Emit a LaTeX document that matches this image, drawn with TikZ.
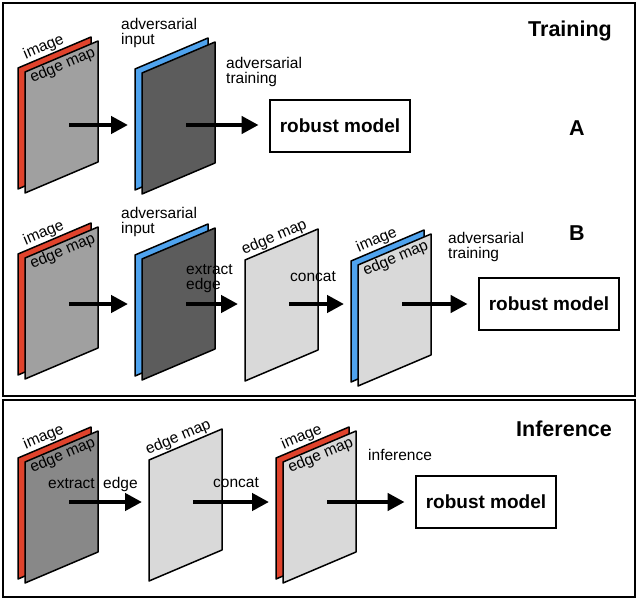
\documentclass[tikz,border=0pt]{standalone}
\usepackage{fontspec}
\setmainfont{Liberation Sans}
\usetikzlibrary{arrows.meta}
\definecolor{sheetred}{HTML}{E0432C}
\definecolor{sheetblue}{HTML}{4FA3EE}
\definecolor{imggray}{HTML}{A0A0A0}
\definecolor{infgray}{HTML}{888888}
\definecolor{advgray}{HTML}{5C5C5C}
\definecolor{edgegray}{HTML}{D9D9D9}

\tikzset{
  page/.style={draw=black, line width=1.5pt, line join=round},
  flow/.style={line width=4.5pt, -{Triangle[length=17pt,width=17pt]}},
  model/.style={draw, line width=2.8pt, minimum width=140pt, minimum height=52pt,
    inner sep=0pt, font=\fontsize{19}{20}\selectfont\bfseries},
  lbl/.style={font=\fontsize{15.5}{15}\selectfont, inner sep=0pt, align=left},
  tag/.style={lbl, rotate=23, inner sep=1.5pt},
  title/.style={font=\fontsize{21.5}{22}\selectfont\bfseries, inner sep=0pt},
  frame/.style={draw, line width=2pt},
}

% sheet: name, x, y (top left corner), arrow row y, fill
\newcommand{\sheet}[5]{%
  \draw[page, fill=#5] (#2,#3) -- ++(73,-31) -- ++(0,121) -- ++(-73,31) -- cycle;
  \coordinate (#1) at (#2,#3);
  \coordinate (#1-in) at (#2-7,#4);
  \coordinate (#1-out) at (#2+44,#4);
}
% labels on the top edge of a sheet
\newcommand{\ontop}[3]{\path (#1) -- ++(73,-31) node[pos=#2, tag, anchor=south] {#3};}
\newcommand{\under}[3]{\path (#1) -- ++(73,-31) node[pos=#2, tag, anchor=north] {#3};}

\begin{document}
\begin{tikzpicture}[x=1pt, y=-1pt]
  \useasboundingbox (0,0) rectangle (640,602);
  \draw[frame] (3,3) rectangle (635,396);
  \draw[frame] (3,400) rectangle (635,597);

  % training, A
  \sheet{A1b}{18}{68}{125}{sheetred}
  \sheet{A1}{25}{72}{125}{imggray}
  \ontop{A1b}{.4}{image}
  \under{A1}{.47}{edge map}
  \sheet{A2b}{135}{69}{125}{sheetblue}
  \sheet{A2}{142}{73}{125}{advgray}
  \node[model] (mA) at (340,126) {robust model};
  \draw[flow] (A1-out) -- (A2b-in);
  \draw[flow, shorten >=10pt] (A2-out) -- (mA.west |- A2-out);
  \node[lbl, anchor=north west] at (121,18) {adversarial\\input};
  \node[lbl, anchor=north west] at (226,57) {adversarial\\training};
  \node[title, anchor=east] (train) at (612,31) {Training};
  \node[title] (tA) at (577,128) {A};

  % training, B
  \sheet{B1b}{18}{254}{304}{sheetred}
  \sheet{B1}{25}{258}{304}{imggray}
  \ontop{B1b}{.4}{image}
  \under{B1}{.47}{edge map}
  \sheet{B2b}{135}{255}{304}{sheetblue}
  \sheet{B2}{142}{259}{304}{advgray}
  \sheet{B3}{245}{260}{304}{edgegray}
  \ontop{B3}{.45}{edge map}
  \sheet{B4b}{351}{261}{304}{sheetblue}
  \sheet{B4}{358}{265}{304}{edgegray}
  \ontop{B4b}{.4}{image}
  \under{B4}{.47}{edge map}
  \node[model] (mB) at (549,304) {robust model};
  \draw[flow] (B1-out) -- (B2b-in);
  \draw[flow] (B2-out) -- (B3-in);
  \draw[flow] (B3-out) -- (B4b-in);
  \draw[flow, shorten >=10pt] (B4-out) -- (mB.west);
  \node[lbl, anchor=north west] at (121,207) {adversarial\\input};
  \node[lbl, anchor=north west] at (186,264) {extract\\edge};
  \node[lbl, anchor=north west] at (290,271) {concat};
  \node[lbl, anchor=north west] at (448,232) {adversarial\\training};
  \node[title] (tB) at (577,233) {B};

  % inference
  \sheet{I1b}{18}{458}{502}{sheetred}
  \sheet{I1}{25}{462}{502}{infgray}
  \ontop{I1b}{.4}{image}
  \under{I1}{.47}{edge map}
  \sheet{I2}{149}{460}{502}{edgegray}
  \ontop{I2}{.45}{edge map}
  \sheet{I3b}{276}{458}{502}{sheetred}
  \sheet{I3}{283}{462}{502}{edgegray}
  \ontop{I3b}{.4}{image}
  \under{I3}{.47}{edge map}
  \node[model] (mI) at (486,502) {robust model};
  \draw[flow] (I1-out) -- (I2-in);
  \draw[flow] (I2-out) -- (I3b-in);
  \draw[flow, shorten >=10pt] (I3-out) -- (mI.west);
  \node[lbl, anchor=north west] at (48,477) {extract\hspace{0.55em}edge};
  \node[lbl, anchor=north west] at (213,477) {concat};
  \node[lbl, anchor=north west] at (368,449) {inference};
  \node[title, anchor=east] (infer) at (612,429) {Inference};
\end{tikzpicture}
\end{document}
